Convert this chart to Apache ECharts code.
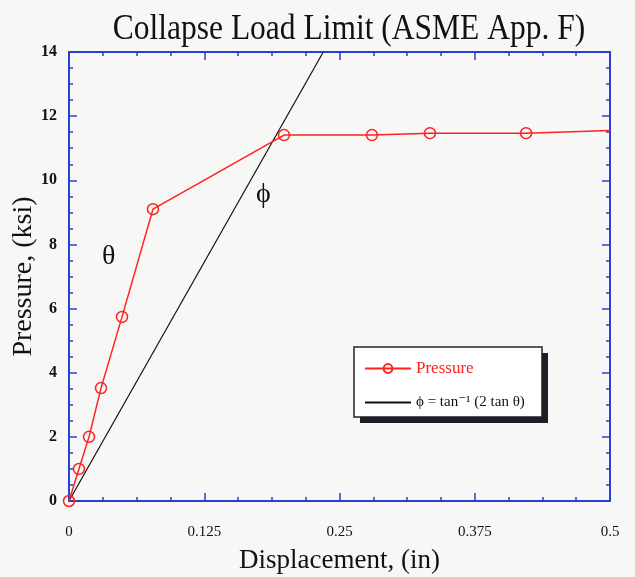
<!DOCTYPE html>
<html>
<head>
<meta charset="utf-8">
<script src="https://cdn.jsdelivr.net/npm/echarts@6/dist/echarts.min.js"></script>
<style>
  html, body { margin: 0; padding: 0; background: #f7f7f5; }
  #chart { width: 635px; height: 577px; }
</style>
</head>
<body>
<div id="chart"></div>
<script>
// Measured load-displacement curve
const displacement = [0, 0.0092, 0.0185, 0.0296, 0.049, 0.0776, 0.1987, 0.280, 0.3336, 0.4224, 0.5];
const pressure     = [0, 1.0, 2.0, 3.52, 5.74, 9.1, 11.41, 11.41, 11.47, 11.47, 11.55];

// Collapse line phi = atan(2 tan theta) through the origin
const limitX = [0, 0.235];
const limitY = [0, 14];

const xTicks = [0, 0.125, 0.25, 0.375, 0.5];
const yTicks = [0, 2, 4, 6, 8, 10, 12, 14];

const serif = '"Liberation Serif", "DejaVu Serif", serif';
const blue = '#2a3fd0';
const LIMIT_NAME = 'ϕ = tan⁻¹ (2 tan θ)';

const pressureData = displacement.map((x, i) => {
  const p = { value: [x, pressure[i]] };
  if (i === displacement.length - 1) p.symbol = 'none';
  return p;
});
const limitData = limitX.map((x, i) => [x, limitY[i]]);

function frameAxis(extra) {
  return Object.assign({
    axisLine: { show: true, onZero: false, lineStyle: { color: blue, width: 2 } },
    axisTick: { show: true, inside: true, length: 8, lineStyle: { color: blue, width: 1.5 } },
    minorTick: { show: true, splitNumber: 4, length: 4, lineStyle: { color: blue, width: 1.5 } },
    splitLine: { show: false }
  }, extra);
}

const chart = echarts.init(document.getElementById('chart'), null, { renderer: 'canvas' });
chart.setOption({
  backgroundColor: '#f7f7f5',
  animation: false,
  grid: { left: 69, right: 25, top: 52, bottom: 76, outerBoundsMode: 'none', containLabel: false },
  legend: {
    orient: 'vertical',
    left: 364, top: 360,
    padding: 0,
    itemGap: 18,
    itemWidth: 46, itemHeight: 11,
    backgroundColor: 'transparent',
    data: [
      { name: 'Pressure', textStyle: { color: '#ff2020', fontSize: 17 } },
      { name: LIMIT_NAME, textStyle: { color: '#111', fontSize: 15 }, itemStyle: { opacity: 0 } }
    ],
    textStyle: { fontFamily: serif }
  },
  xAxis: [
    frameAxis({
      type: 'value', min: 0, max: 0.5, interval: 0.125, position: 'bottom',
      name: 'Displacement, (in)', nameLocation: 'middle', nameGap: 46, nameMoveOverlap: false,
      nameTextStyle: { fontFamily: serif, fontSize: 27, color: '#111' },
      axisLabel: {
        margin: 24, fontFamily: serif, fontSize: 15, color: '#111',
        formatter: v => xTicks.includes(v) ? String(v) : ''
      }
    }),
    frameAxis({
      type: 'value', min: 0, max: 0.5, interval: 0.125, position: 'top',
      axisLabel: { show: false }
    })
  ],
  yAxis: [
    frameAxis({
      type: 'value', min: 0, max: 14, interval: 2, position: 'left',
      name: 'Pressure, (ksi)', nameLocation: 'middle', nameGap: 31, nameRotate: 90, nameMoveOverlap: false,
      nameTextStyle: { fontFamily: serif, fontSize: 28, color: '#111' },
      axisLabel: {
        margin: 12, fontFamily: serif, fontSize: 16, fontWeight: 'bold', color: '#111',
        formatter: v => yTicks.includes(v) ? String(v) : ''
      }
    }),
    frameAxis({
      type: 'value', min: 0, max: 14, interval: 2, position: 'right',
      axisLabel: { show: false }
    })
  ],
  series: [
    {
      name: 'Pressure', type: 'line', data: pressureData,
      symbol: 'circle', symbolSize: 11, showAllSymbol: true,
      itemStyle: { color: 'rgba(255,255,255,0)', borderColor: '#ff2020', borderWidth: 1.5 },
      lineStyle: { color: '#ff2020', width: 1.5 },
      z: 3
    },
    {
      name: LIMIT_NAME, type: 'line', data: limitData,
      symbol: 'none', clip: true,
      itemStyle: { color: '#111' },
      lineStyle: { color: '#111', width: 1.2 },
      z: 2
    }
  ],
  graphic: [
    // chart title, set in a slightly condensed serif
    { type: 'text', x: 349, y: 30, scaleX: 0.875, z: 5,
      style: { text: 'Collapse Load Limit (ASME App. F)', font: '36px ' + serif, fill: '#111',
               textAlign: 'center', textVerticalAlign: 'middle' } },
    // legend panel with drop shadow
    { type: 'rect', z: 0, shape: { x: 360, y: 353, width: 188, height: 70 }, style: { fill: '#1e1e2a' } },
    { type: 'rect', z: 1, shape: { x: 354, y: 347, width: 188, height: 70 }, style: { fill: '#ffffff', stroke: '#222', lineWidth: 1.5 } },
    { type: 'text', left: 102, top: 243, style: { text: 'θ', font: '28px ' + serif, fill: '#111' } },
    { type: 'text', left: 256, top: 181, style: { text: 'ϕ', font: '28px ' + serif, fill: '#111' } }
  ]
});
</script>
</body>
</html>
